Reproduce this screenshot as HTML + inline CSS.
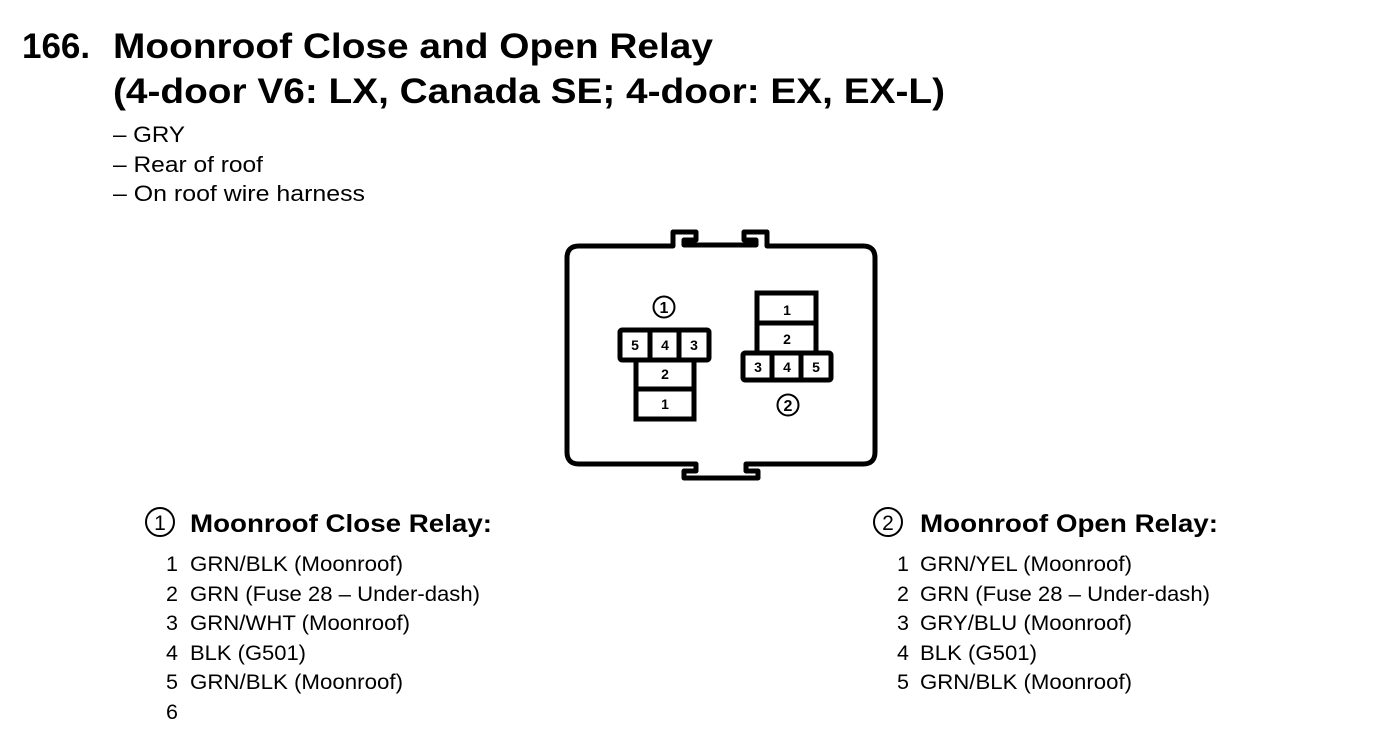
<!DOCTYPE html>
<html><head><meta charset="utf-8"><style>
html,body{margin:0;padding:0;background:#fff;}
svg{display:block;}
text{font-family:"Liberation Sans",Arial,sans-serif;fill:#000;}
.t{font-weight:bold;font-size:35px;}
.b{font-size:22px;}
.h{font-weight:bold;font-size:25px;}
.l{font-size:21.5px;}
.c{font-size:14px;font-weight:bold;text-anchor:middle;}
</style></head><body>
<svg width="1392" height="752" viewBox="0 0 1392 752" xmlns="http://www.w3.org/2000/svg">
<text class="t" x="22" y="58">166.</text>
<text class="t" x="113" y="58" textLength="600" lengthAdjust="spacingAndGlyphs">Moonroof Close and Open Relay</text>
<text class="t" x="113" y="103" textLength="832" lengthAdjust="spacingAndGlyphs">(4-door V6: LX, Canada SE; 4-door: EX, EX-L)</text>
<text class="b" x="113" y="142" textLength="72" lengthAdjust="spacingAndGlyphs">– GRY</text>
<text class="b" x="113" y="172" textLength="150" lengthAdjust="spacingAndGlyphs">– Rear of roof</text>
<text class="b" x="113" y="201" textLength="252" lengthAdjust="spacingAndGlyphs">– On roof wire harness</text>

<path d="M579,246 L673,246 L673,232 L696,232 L696,240 L684,240 L684,245 L756,245 L756,240 L744,240 L744,232 L767,232 L767,246 L863,246 Q875,246 875,258 L875,452 Q875,464 863,464 L746,464 L746,471 L758,471 L758,478 L684,478 L684,471 L696,471 L696,464 L579,464 Q567,464 567,452 L567,258 Q567,246 579,246 Z" fill="none" stroke="#000" stroke-width="5" stroke-linejoin="round"/>

<circle cx="664" cy="307" r="10.5" fill="none" stroke="#000" stroke-width="2"/>
<text x="664" y="313" style="font-size:16px;font-weight:bold;text-anchor:middle">1</text>
<rect x="620" y="330" width="89" height="30" rx="2" fill="#fff" stroke="#000" stroke-width="5"/>
<line x1="650" y1="330" x2="650" y2="360" stroke="#000" stroke-width="5"/>
<line x1="679" y1="330" x2="679" y2="360" stroke="#000" stroke-width="5"/>
<rect x="636" y="360" width="58" height="59" fill="#fff" stroke="#000" stroke-width="5"/>
<line x1="636" y1="389" x2="694" y2="389" stroke="#000" stroke-width="5"/>
<text class="c" x="635" y="350">5</text>
<text class="c" x="665" y="350">4</text>
<text class="c" x="694" y="350">3</text>
<text class="c" x="665" y="379">2</text>
<text class="c" x="665" y="409">1</text>

<rect x="757" y="293" width="59" height="60" fill="#fff" stroke="#000" stroke-width="5"/>
<line x1="757" y1="323" x2="816" y2="323" stroke="#000" stroke-width="5"/>
<rect x="743" y="353" width="88" height="27" rx="2" fill="#fff" stroke="#000" stroke-width="5"/>
<line x1="772" y1="353" x2="772" y2="380" stroke="#000" stroke-width="5"/>
<line x1="801" y1="353" x2="801" y2="380" stroke="#000" stroke-width="5"/>
<text class="c" x="787" y="315">1</text>
<text class="c" x="787" y="344">2</text>
<text class="c" x="758" y="372">3</text>
<text class="c" x="787" y="372">4</text>
<text class="c" x="816" y="372">5</text>
<circle cx="788" cy="405" r="10.5" fill="none" stroke="#000" stroke-width="2"/>
<text x="788" y="411" style="font-size:16px;font-weight:bold;text-anchor:middle">2</text>

<circle cx="160" cy="522" r="14" fill="none" stroke="#000" stroke-width="2"/>
<text x="160" y="530" style="font-size:21px;text-anchor:middle">1</text>
<text class="h" x="190" y="532" textLength="302" lengthAdjust="spacingAndGlyphs">Moonroof Close Relay:</text>
<text class="l" x="166" y="571">1</text><text class="l" x="190" y="571" textLength="213" lengthAdjust="spacingAndGlyphs">GRN/BLK (Moonroof)</text>
<text class="l" x="166" y="601">2</text><text class="l" x="190" y="601" textLength="290" lengthAdjust="spacingAndGlyphs">GRN (Fuse 28 – Under-dash)</text>
<text class="l" x="166" y="630">3</text><text class="l" x="190" y="630" textLength="220" lengthAdjust="spacingAndGlyphs">GRN/WHT (Moonroof)</text>
<text class="l" x="166" y="660">4</text><text class="l" x="190" y="660" textLength="116" lengthAdjust="spacingAndGlyphs">BLK (G501)</text>
<text class="l" x="166" y="689">5</text><text class="l" x="190" y="689" textLength="213" lengthAdjust="spacingAndGlyphs">GRN/BLK (Moonroof)</text>
<text class="l" x="166" y="719">6</text>

<circle cx="888" cy="522" r="14" fill="none" stroke="#000" stroke-width="2"/>
<text x="888" y="530" style="font-size:21px;text-anchor:middle">2</text>
<text class="h" x="920" y="532" textLength="298" lengthAdjust="spacingAndGlyphs">Moonroof Open Relay:</text>
<text class="l" x="897" y="571">1</text><text class="l" x="920" y="571" textLength="212" lengthAdjust="spacingAndGlyphs">GRN/YEL (Moonroof)</text>
<text class="l" x="897" y="601">2</text><text class="l" x="920" y="601" textLength="290" lengthAdjust="spacingAndGlyphs">GRN (Fuse 28 – Under-dash)</text>
<text class="l" x="897" y="630">3</text><text class="l" x="920" y="630" textLength="212" lengthAdjust="spacingAndGlyphs">GRY/BLU (Moonroof)</text>
<text class="l" x="897" y="660">4</text><text class="l" x="920" y="660" textLength="117" lengthAdjust="spacingAndGlyphs">BLK (G501)</text>
<text class="l" x="897" y="689">5</text><text class="l" x="920" y="689" textLength="212" lengthAdjust="spacingAndGlyphs">GRN/BLK (Moonroof)</text>
</svg>
</body></html>
